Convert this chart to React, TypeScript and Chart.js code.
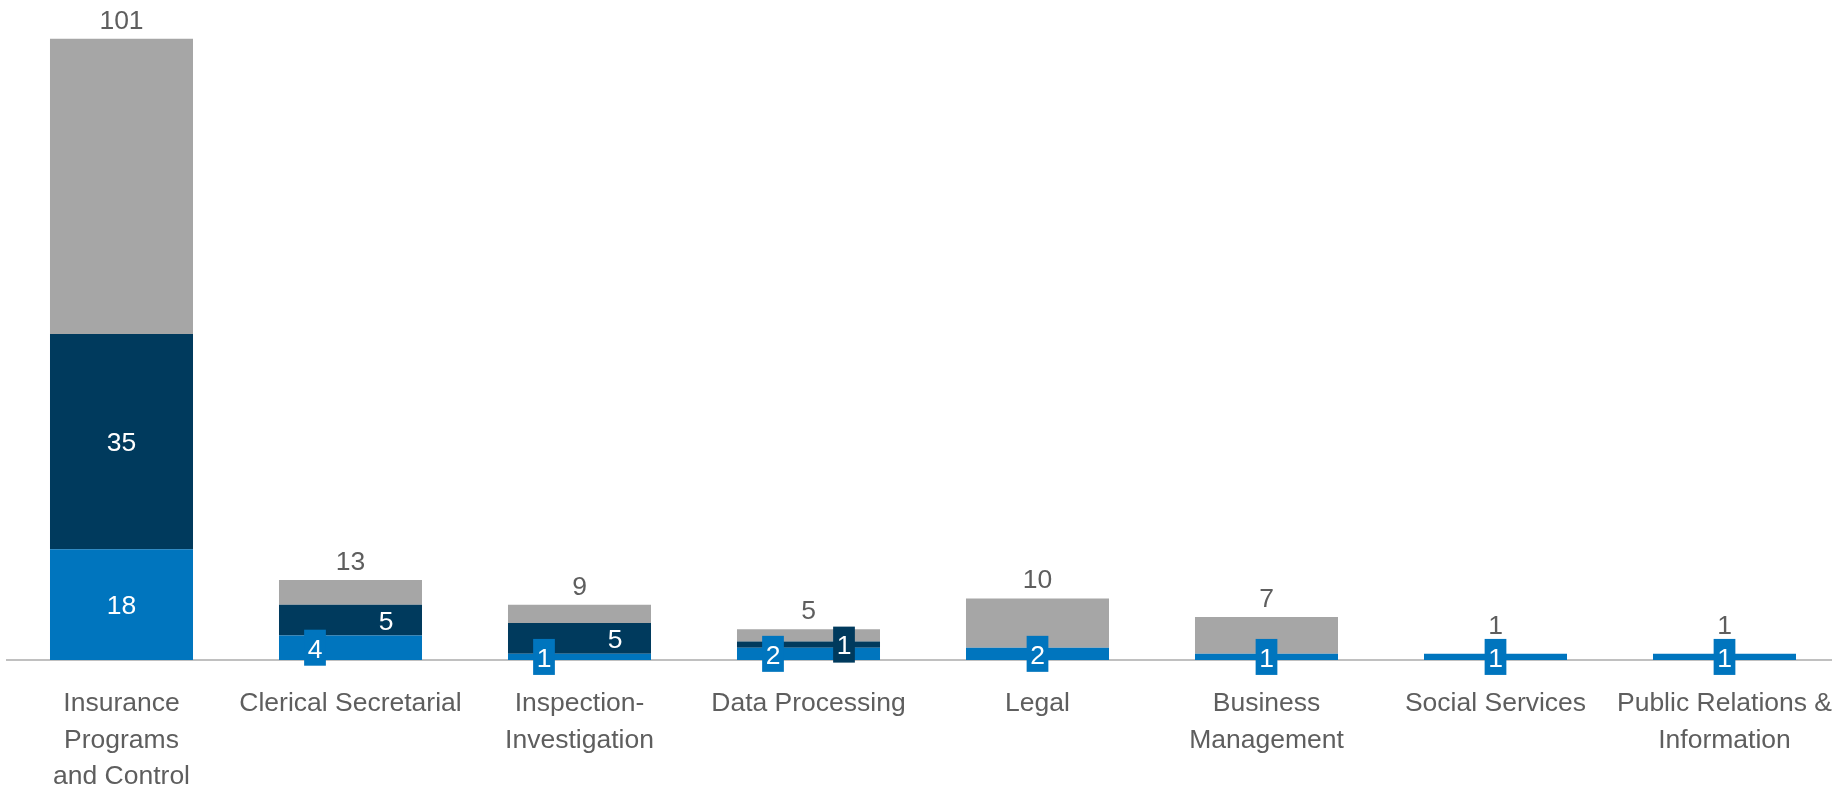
import React, { useEffect, useRef } from "react";
import { Chart, registerables } from "chart.js";

Chart.register(...registerables);

const FONT = "'Liberation Sans', Arial, sans-serif";

const categories: (string | string[])[] = [
  ["Insurance", "Programs", "and Control"],
  "Clerical Secretarial",
  ["Inspection-", "Investigation"],
  "Data Processing",
  "Legal",
  ["Business", "Management"],
  "Social Services",
  ["Public Relations &", "Information"],
];
const blueValues = [18, 4, 1, 2, 2, 1, 1, 1];
const navyValues = [35, 5, 5, 1, 0, 0, 0, 0];
const totals = [101, 13, 9, 5, 10, 7, 1, 1];
const grayValues = totals.map((t, i) => t - blueValues[i] - navyValues[i]);

const BLUE = "#0075BE";
const NAVY = "#003A5D";
const GRAY = "#A6A6A6";
const TEXT = "#5E5E5E";

const labelPlugin = {
  id: "segLabels",
  afterDatasetsDraw(chart: any) {
    const ctx = chart.ctx;
    const bMeta = chart.getDatasetMeta(0);
    const nMeta = chart.getDatasetMeta(1);
    const gMeta = chart.getDatasetMeta(2);
    ctx.save();
    ctx.font = `26.5px ${FONT}`;
    ctx.textAlign = "center";
    for (let j = 0; j < totals.length; j++) {
      const b = bMeta.data[j];
      const n = nMeta.data[j];
      const g = gMeta.data[j];
      const bh = b.base - b.y;
      const nh = n.base - n.y;
      const split = blueValues[j] > 0 && navyValues[j] > 0 && (bh < 28 || nh < 28);
      let topBox = Infinity;
      const drawSeg = (val: number, el: any, h: number, color: string, dx: number) => {
        if (!val) return;
        const cx = el.x + dx;
        const cy = (el.y + el.base) / 2;
        const text = String(val);
        if (h < 28) {
          const w = ctx.measureText(text).width + 7;
          const bhgt = 36;
          ctx.fillStyle = color;
          ctx.fillRect(cx - w / 2, cy - bhgt / 2, w, bhgt);
          topBox = Math.min(topBox, cy - bhgt / 2);
        }
        ctx.fillStyle = "#ffffff";
        ctx.textBaseline = "middle";
        ctx.fillText(text, cx, cy + 2.5);
      };
      drawSeg(blueValues[j], b, bh, BLUE, split ? -35.5 : 0);
      drawSeg(navyValues[j], n, nh, NAVY, split ? 35.5 : 0);
      const top = Math.min(b.y, n.y, g.y);
      const y = Math.min(top - 10, topBox - 5);
      ctx.fillStyle = TEXT;
      ctx.textBaseline = "alphabetic";
      ctx.fillText(String(totals[j]), b.x, y);
    }
    ctx.restore();
  },
};

export default function App() {
  const ref = useRef<HTMLCanvasElement | null>(null);
  useEffect(() => {
    if (!ref.current) return;
    const chart = new Chart(ref.current, {
      type: "bar",
      data: {
        labels: categories as any,
        datasets: [
          { label: "Blue", data: blueValues, backgroundColor: BLUE, borderWidth: 0 },
          { label: "Navy", data: navyValues, backgroundColor: NAVY, borderWidth: 0 },
          { label: "Gray", data: grayValues, backgroundColor: GRAY, borderWidth: 0 },
        ],
      },
      options: {
        animation: false,
        responsive: true,
        maintainAspectRatio: false,
        layout: { padding: { left: 7, right: 6, top: 38.6, bottom: 0 } },
        datasets: { bar: { categoryPercentage: 1, barPercentage: 0.6245 } },
        plugins: { legend: { display: false }, tooltip: { enabled: false } },
        scales: {
          x: {
            stacked: true,
            grid: { display: false, drawTicks: false },
            border: { display: true, color: "#C0C0C0", width: 2 },
            ticks: {
              color: TEXT,
              font: { family: FONT, size: 26.5, lineHeight: 1.39 },
              padding: 25,
              autoSkip: false,
              maxRotation: 0,
              minRotation: 0,
            },
            afterFit: (scale: any) => {
              scale.height = 126;
              scale.paddingLeft = 0;
              scale.paddingRight = 0;
            },
          },
          y: {
            stacked: true,
            display: false,
            min: 0,
            max: 101,
          },
        },
      },
      plugins: [labelPlugin],
    });
    return () => chart.destroy();
  }, []);
  return (
    <div style={{ position: "fixed", left: 0, top: 0, width: 1832, height: 786, overflow: "hidden", background: "#fff" }}>
      <div style={{ position: "relative", width: 1845, height: 786 }}>
        <canvas ref={ref} />
      </div>
    </div>
  );
}
